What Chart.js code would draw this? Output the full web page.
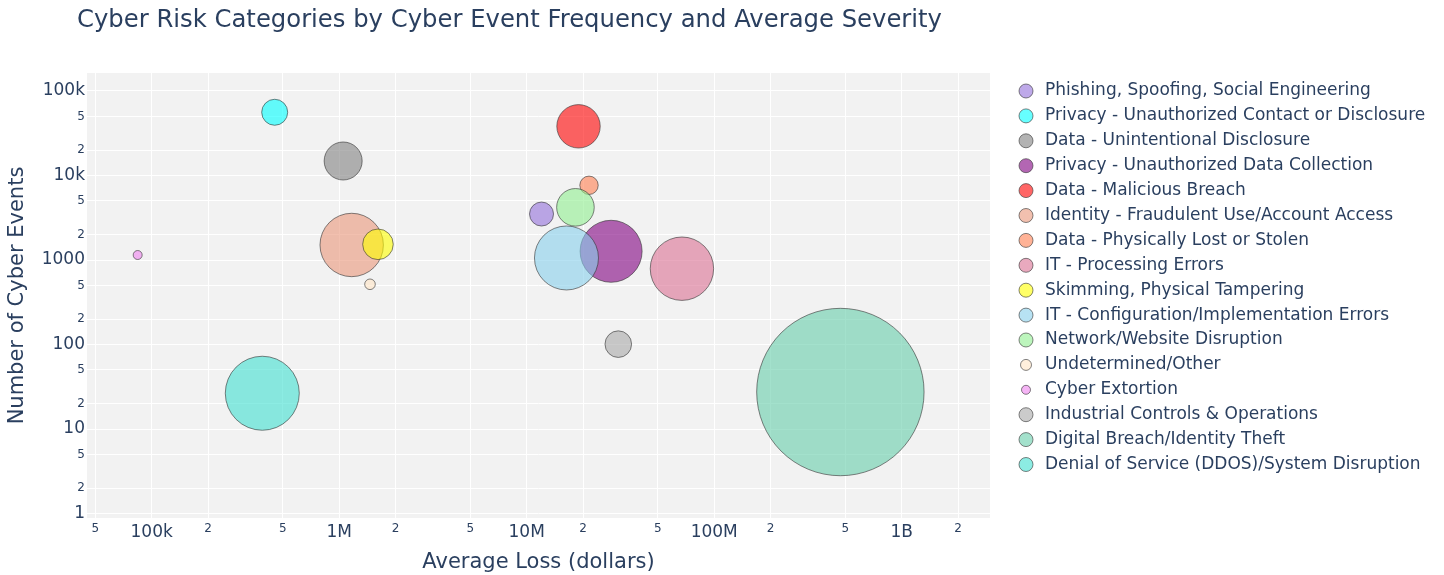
<!DOCTYPE html>
<html>
<head>
<meta charset="utf-8">
<script src="https://cdn.jsdelivr.net/npm/chart.js@4.4.1/dist/chart.umd.min.js"></script>
<style>
  html, body { margin: 0; padding: 0; background: #fff; }
  #wrap { width: 1444px; height: 575px; position: relative; }
</style>
</head>
<body>
<div id="wrap"><canvas id="chart"></canvas></div>
<script>
// Categorias (ordem da legenda)
const categories = [
  'Phishing, Spoofing, Social Engineering',
  'Privacy - Unauthorized Contact or Disclosure',
  'Data - Unintentional Disclosure',
  'Privacy - Unauthorized Data Collection',
  'Data - Malicious Breach',
  'Identity - Fraudulent Use/Account Access',
  'Data - Physically Lost or Stolen',
  'IT - Processing Errors',
  'Skimming, Physical Tampering',
  'IT - Configuration/Implementation Errors',
  'Network/Website Disruption',
  'Undetermined/Other',
  'Cyber Extortion',
  'Industrial Controls & Operations',
  'Digital Breach/Identity Theft',
  'Denial of Service (DDOS)/System Disruption'
];

// perda media (dolares)
const avgLoss = [12.0e6, 453e3, 1.05e6, 28.2e6, 18.9e6, 1.166e6, 21.5e6, 67.3e6,
  1.61e6, 16.3e6, 18.2e6, 1.46e6, 84.2e3, 30.8e6, 471e6, 389e3];

// numero de eventos
const eventCount = [3500, 56000, 14850, 1268, 38200, 1506, 7660, 789,
  1534, 1057, 4200, 516, 1146, 101, 27.4, 26.5];

// tamanho da bolha (raio)
const bubbleSize = [12, 13, 19, 31, 21.7, 31.7, 9.2, 31.7,
  15.3, 32, 18.8, 5.3, 4.5, 13.3, 83.7, 37];

const colors = ['mediumpurple', 'cyan', 'gray', 'purple', 'red', 'darksalmon', 'coral', 'palevioletred',
  'yellow', 'skyblue', 'lightgreen', 'bisque', 'violet', 'darkgray', 'mediumaquamarine', 'turquoise'];

// raio do simbolo na legenda
const legendRadius = [7, 7, 7, 7, 7, 7, 7, 7, 7, 7, 7, 5.5, 4.5, 7, 7, 7];

// ticks dos eixos
const xTickValues = [5e4, 1e5, 2e5, 5e5, 1e6, 2e6, 5e6, 1e7, 2e7, 5e7, 1e8, 2e8, 5e8, 1e9, 2e9];
const xTickLabels = ['5', '100k', '2', '5', '1M', '2', '5', '10M', '2', '5', '100M', '2', '5', '1B', '2'];
const yTickValues = [1, 2, 5, 10, 20, 50, 100, 200, 500, 1000, 2000, 5000, 1e4, 2e4, 5e4, 1e5];
const yTickLabels = ['1', '2', '5', '10', '2', '5', '100', '2', '5', '1000', '2', '5', '10k', '2', '5', '100k'];

const TEXT = '#2a3f5f';
const FONT = "'DejaVu Sans', sans-serif";

// converte nome de cor em rgba com opacidade
function withAlpha(name, a) {
  const c = document.createElement('canvas').getContext('2d');
  c.fillStyle = name;
  const hex = c.fillStyle;
  const r = parseInt(hex.slice(1, 3), 16), g = parseInt(hex.slice(3, 5), 16), b = parseInt(hex.slice(5, 7), 16);
  return `rgba(${r},${g},${b},${a})`;
}

const datasets = categories.map((name, i) => ({
  label: name,
  data: [{ x: avgLoss[i], y: eventCount[i], r: bubbleSize[i] }],
  backgroundColor: withAlpha(colors[i], 0.6),
  borderColor: 'rgba(50,50,50,0.6)',
  borderWidth: 1,
  hoverRadius: 0,
  order: categories.length - i
}));

const isMajor = v => Math.abs(Math.log10(v) - Math.round(Math.log10(v))) < 1e-9;

// fundo da area do grafico + titulo + legenda
const decor = {
  id: 'decor',
  beforeDraw(chart) {
    const { ctx, chartArea: a } = chart;
    ctx.save();
    ctx.fillStyle = '#f2f2f2';
    ctx.fillRect(a.left, a.top, a.right - a.left, a.bottom - a.top);
    ctx.restore();
  },
  afterDraw(chart) {
    const ctx = chart.ctx;
    ctx.save();
    ctx.fillStyle = TEXT;
    ctx.textBaseline = 'middle';
    ctx.font = `24.3px ${FONT}`;
    ctx.fillText('Cyber Risk Categories by Cyber Event Frequency and Average Severity', 77, 21);

    ctx.font = `17px ${FONT}`;
    categories.forEach((name, i) => {
      const y = 91 + i * 24.9;
      ctx.beginPath();
      ctx.arc(1026, y, legendRadius[i], 0, Math.PI * 2);
      ctx.fillStyle = withAlpha(colors[i], 0.6);
      ctx.fill();
      ctx.strokeStyle = 'rgba(50,50,50,0.6)';
      ctx.lineWidth = 1;
      ctx.stroke();
      ctx.fillStyle = TEXT;
      ctx.fillText(name, 1045, y);
    });
    ctx.restore();
  }
};

new Chart(document.getElementById('chart'), {
  type: 'bubble',
  data: { datasets },
  plugins: [decor],
  options: {
    responsive: true,
    maintainAspectRatio: false,
    animation: false,
    layout: { autoPadding: false, padding: { top: 73, right: 454, left: 0, bottom: 0 } },
    plugins: { legend: { display: false }, tooltip: { enabled: false } },
    scales: {
      x: {
        type: 'logarithmic',
        min: 45190,
        max: 2.958e9,
        afterBuildTicks: s => { s.ticks = xTickValues.map(v => ({ value: v, major: isMajor(v) })); },
        afterFit: s => { s.height = 57; s.paddingLeft = 0; s.paddingRight = 0; },
        grid: { color: '#ffffff', lineWidth: 1, drawTicks: false },
        border: { display: false },
        ticks: {
          autoSkip: false,
          maxRotation: 0,
          padding: 4,
          color: TEXT,
          font: ctx => ({ family: FONT, size: isMajor(xTickValues[ctx.index]) ? 17 : 12 }),
          callback: (v, i) => xTickLabels[i]
        },
        title: { display: true, text: 'Average Loss (dollars)', color: TEXT, font: { family: FONT, size: 21 }, padding: { top: 0, bottom: 0 } }
      },
      y: {
        type: 'logarithmic',
        min: 0.885,
        max: 163300,
        afterBuildTicks: s => { s.ticks = yTickValues.map(v => ({ value: v, major: isMajor(v) })); },
        afterFit: s => { s.width = 87; s.paddingTop = 0; s.paddingBottom = 0; },
        grid: { color: '#ffffff', lineWidth: 1, drawTicks: false },
        border: { display: false },
        ticks: {
          autoSkip: false,
          padding: 2,
          color: TEXT,
          font: ctx => ({ family: FONT, size: isMajor(yTickValues[ctx.index]) ? 17 : 12 }),
          callback: (v, i) => yTickLabels[i]
        },
        title: { display: true, text: 'Number of Cyber Events', color: TEXT, font: { family: FONT, size: 21 }, padding: { top: 5, bottom: 0 } }
      }
    }
  }
});
</script>
</body>
</html>
